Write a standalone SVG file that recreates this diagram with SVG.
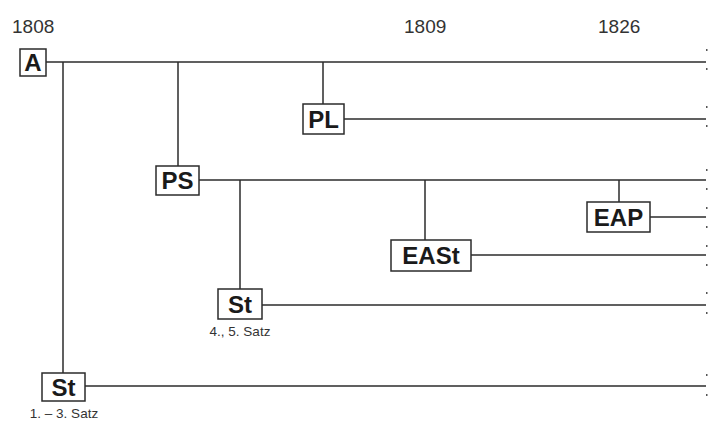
<svg xmlns="http://www.w3.org/2000/svg" width="708" height="422" viewBox="0 0 708 422">
  <style>
    .bg { fill: #ffffff; }
    .ln { stroke: #2b2b2b; stroke-width: 1.5; fill: none; }
    .box { fill: #ffffff; stroke: #2b2b2b; stroke-width: 1.5; }
    .lbl { font-family: "Liberation Sans", Arial, sans-serif; font-weight: bold; font-size: 24px; fill: #1a1a1a; text-anchor: middle; }
    .year { font-family: "Liberation Sans", Arial, sans-serif; font-size: 19px; fill: #333333; }
    .note { font-family: "Liberation Sans", Arial, sans-serif; font-size: 13.5px; fill: #333333; text-anchor: middle; }
    .dot { fill: #555555; }
  </style>
  <rect class="bg" x="0" y="0" width="708" height="422"/>

  <!-- year marks -->
  <g id="years">
    <text class="year" x="12" y="33">1808</text>
    <text class="year" x="404" y="33">1809</text>
    <text class="year" x="598" y="33">1826</text>
  </g>

  <!-- connectors -->
  <g id="connectors">
    <line class="ln" x1="46" y1="62" x2="706" y2="62"/>
    <line class="ln" x1="63" y1="62" x2="63" y2="373"/>
    <line class="ln" x1="178" y1="62" x2="178" y2="166"/>
    <line class="ln" x1="323" y1="62" x2="323" y2="104"/>
    <line class="ln" x1="344" y1="119" x2="706" y2="119"/>
    <line class="ln" x1="199" y1="180" x2="706" y2="180"/>
    <line class="ln" x1="240" y1="180" x2="240" y2="289"/>
    <line class="ln" x1="425" y1="180" x2="425" y2="240"/>
    <line class="ln" x1="619" y1="180" x2="619" y2="202"/>
    <line class="ln" x1="650" y1="217" x2="706" y2="217"/>
    <line class="ln" x1="471" y1="255" x2="706" y2="255"/>
    <line class="ln" x1="262" y1="305" x2="706" y2="305"/>
    <line class="ln" x1="85" y1="386" x2="706" y2="386"/>
  </g>

  <!-- cut marks at right edge -->
  <g id="edge-marks">
    <rect class="dot" x="706" y="49" width="1.5" height="2"/>
    <rect class="dot" x="706" y="68" width="1.5" height="2"/>
    <rect class="dot" x="706" y="106" width="1.5" height="2"/>
    <rect class="dot" x="706" y="125" width="1.5" height="2"/>
    <rect class="dot" x="706" y="169" width="1.5" height="2"/>
    <rect class="dot" x="706" y="188" width="1.5" height="2"/>
    <rect class="dot" x="706" y="207" width="1.5" height="2"/>
    <rect class="dot" x="706" y="226" width="1.5" height="2"/>
    <rect class="dot" x="706" y="245" width="1.5" height="2"/>
    <rect class="dot" x="706" y="264" width="1.5" height="2"/>
    <rect class="dot" x="706" y="292" width="1.5" height="2"/>
    <rect class="dot" x="706" y="312" width="1.5" height="2"/>
    <rect class="dot" x="706" y="374" width="1.5" height="2"/>
    <rect class="dot" x="706" y="394" width="1.5" height="2"/>
  </g>

  <g id="node-A">
    <rect class="box" x="20" y="49" width="26" height="27"/>
    <text class="lbl" x="33" y="71">A</text>
  </g>

  <g id="node-PL">
    <rect class="box" x="303" y="104" width="41" height="30"/>
    <text class="lbl" x="323.5" y="128">PL</text>
  </g>

  <g id="node-PS">
    <rect class="box" x="156" y="166" width="43" height="29"/>
    <text class="lbl" x="177.5" y="189">PS</text>
  </g>

  <g id="node-EAP">
    <rect class="box" x="587" y="202" width="63" height="30"/>
    <text class="lbl" x="618.5" y="226">EAP</text>
  </g>

  <g id="node-EASt">
    <rect class="box" x="391" y="240" width="80" height="31"/>
    <text class="lbl" x="431" y="264">EASt</text>
  </g>

  <g id="node-St-4-5">
    <rect class="box" x="218" y="289" width="44" height="30"/>
    <text class="lbl" x="240" y="313">St</text>
    <text class="note" x="240" y="336">4., 5. Satz</text>
  </g>

  <g id="node-St-1-3">
    <rect class="box" x="42" y="373" width="43" height="28"/>
    <text class="lbl" x="63.5" y="396">St</text>
    <text class="note" x="64" y="418">1. – 3. Satz</text>
  </g>
</svg>
